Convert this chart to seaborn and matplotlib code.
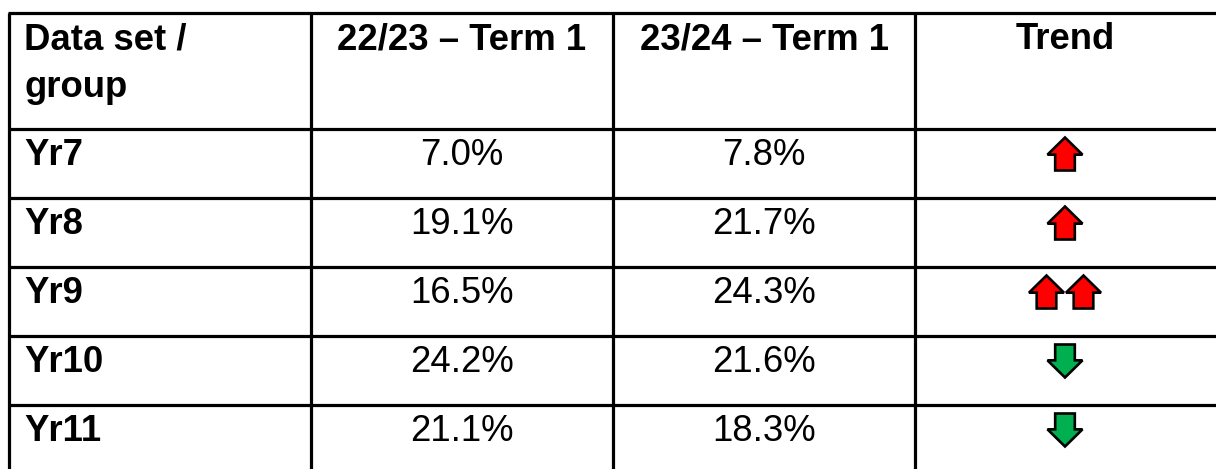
import numpy as np
import pandas as pd
import matplotlib
matplotlib.use('Agg')
import matplotlib.pyplot as plt
from matplotlib.patches import Polygon
import seaborn as sns

# table data
headers = ['Data set /\ngroup', '22/23 \u2013 Term 1', '23/24 \u2013 Term 1', 'Trend']
groups = ['Yr7', 'Yr8', 'Yr9', 'Yr10', 'Yr11']
term_2223 = [7.0, 19.1, 16.5, 24.2, 21.1]
term_2324 = [7.8, 21.7, 24.3, 21.6, 18.3]
trend = [1, 1, 2, -1, -1]   # +n = n red up arrows, -n = green down arrows

df = pd.DataFrame({'group': groups, 't1': term_2223, 't2': term_2324, 'trend': trend})

sns.set_theme(style='white')
plt.rcParams['font.family'] = ['Liberation Sans', 'DejaVu Sans']
plt.rcParams['text.color'] = 'black'

W, H = 1216, 469
fig = plt.figure(figsize=(W / 100, H / 100), dpi=100)
ax = fig.add_axes([0, 0, 1, 1])
ax.set_xlim(0, W)
ax.set_ylim(H, 0)
ax.axis('off')

# layout in pixels
col_x = [9, 311, 613, 915, W + 5]
top = 13
head_h = 116
row_h = 69
fs = 26.3
lw = 2.3

row_tops = [top + head_h + i * row_h for i in range(len(df))]

# grid lines
for y in [top] + row_tops:
    ax.plot([col_x[0] - 1, W], [y, y], color='black', lw=lw, solid_capstyle='butt')
for x in col_x[:4]:
    ax.plot([x, x], [top, H], color='black', lw=lw, solid_capstyle='butt')

col_c = [(col_x[i] + col_x[i + 1]) / 2 for i in range(4)]
col_c[3] = 1065

# header
ax.text(24, top + 36, 'Data set /', fontsize=fs, fontweight='bold', va='baseline', ha='left', color='black')
ax.text(24, top + 84, 'group', fontsize=fs, fontweight='bold', va='baseline', ha='left', color='black')
for j in range(1, 4):
    ax.text(col_c[j], top + 36, headers[j], fontsize=fs, fontweight='bold',
            va='baseline', ha='center', color='black')


def arrow(cx, cy, up, color):
    w, h = 35, 33
    sw = w * 0.28
    hh = h * 0.52
    s = -1 if up else 1
    tip = cy + s * h / 2
    base = cy - s * h / 2
    neck = tip - s * hh
    pts = [(cx, tip), (cx - w / 2, neck), (cx - sw, neck), (cx - sw, base),
           (cx + sw, base), (cx + sw, neck), (cx + w / 2, neck)]
    ax.add_patch(Polygon(pts, closed=True, facecolor=color, edgecolor='black',
                         lw=1.9, joinstyle='miter'))


for i, r in df.iterrows():
    yt = row_tops[i]
    base = yt + 36
    ax.text(24, base, r['group'], fontsize=fs, fontweight='bold', va='baseline', ha='left', color='black')
    ax.text(col_c[1], base, f"{r['t1']:.1f}%", fontsize=fs, va='baseline', ha='center', color='black')
    ax.text(col_c[2], base, f"{r['t2']:.1f}%", fontsize=fs, va='baseline', ha='center', color='black')
    n = abs(r['trend'])
    up = r['trend'] > 0
    color = '#FF0000' if up else '#00B050'
    offs = np.arange(n) * 37 - (n - 1) * 37 / 2
    for o in offs:
        arrow(col_c[3] + o, yt + 25, up, color)

fig.savefig('out.png', dpi=100, facecolor='white')
